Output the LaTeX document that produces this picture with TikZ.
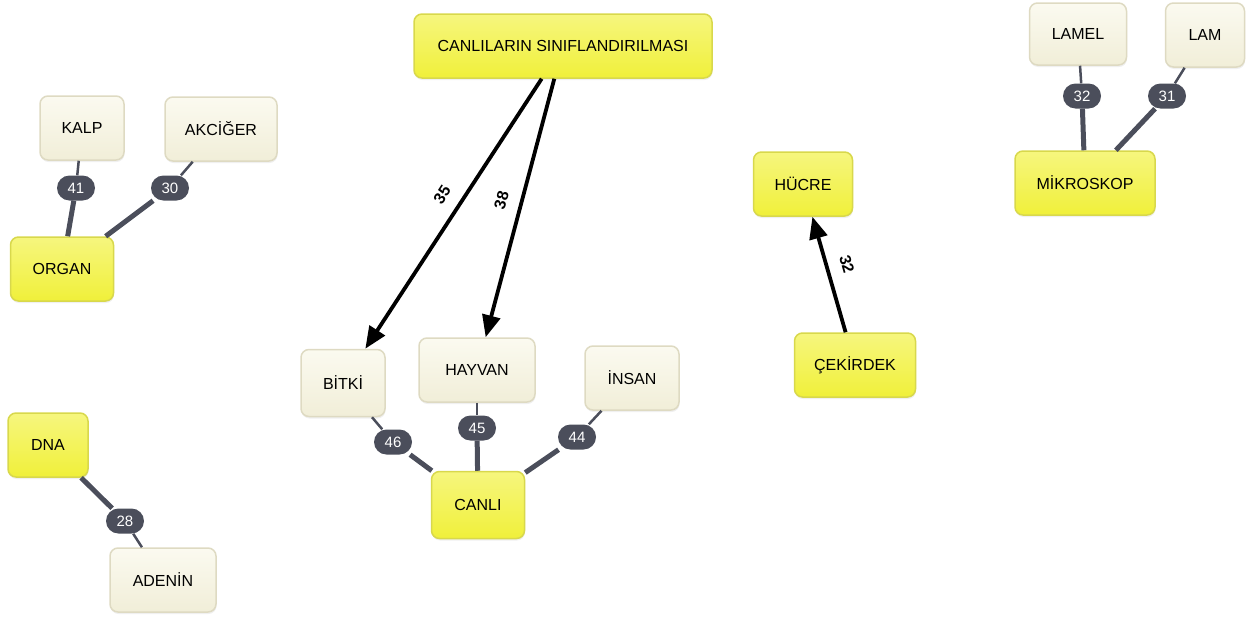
\documentclass[tikz,border=0pt]{standalone}
\usepackage{fontspec}
\setmainfont{Liberation Sans}
\usetikzlibrary{arrows.meta,shadows}
\definecolor{yeltop}{HTML}{F6F67E}
\definecolor{yelbot}{HTML}{F0F03A}
\definecolor{yelbd}{HTML}{D8D84C}
\definecolor{cretop}{HTML}{FBFAF0}
\definecolor{crebot}{HTML}{F1EED8}
\definecolor{crebd}{HTML}{DEDAC2}
\definecolor{pill}{HTML}{4B4E5B}
\begin{document}
\begin{tikzpicture}[x=1pt,y=-1pt,
	box/.style={draw,rounded corners=8pt,line width=1.5pt,inner sep=0pt,minimum height=64pt,font=\fontsize{16}{19}\selectfont,drop shadow={opacity=.12,shadow xshift=.5pt,shadow yshift=-2pt}},
	yel/.style={box,draw=yelbd,top color=yeltop,bottom color=yelbot},
	cre/.style={box,draw=crebd,top color=cretop,bottom color=crebot},
	num/.style={fill=pill,text=white,rounded corners=12.5pt,minimum width=38pt,minimum height=25pt,inner sep=0pt,font=\fontsize{15}{17}\selectfont},
	fine/.style={draw=pill,line width=2.5pt},
	grossa/.style={draw=pill,line width=5pt},
	freccia/.style={-{Triangle[length=22pt,width=18pt]},line width=3.8pt},
	peso/.style={sloped,above=9pt,font=\bfseries\fontsize{16}{18}\selectfont}]
		\useasboundingbox (0,0) rectangle (1250,619);
		\node[yel,minimum width=298pt,name=sin]at(563,46){CANLILARIN SINIFLANDIRILMASI};
		\node[cre,minimum width=84pt,name=kalp]at(82,128){KALP};
		\node[cre,minimum width=112pt,name=akc]at(221,129){AKCİĞER};
		\node[yel,minimum width=103pt,name=org]at(62,269){ORGAN};
		\node[num,name=n41]at(76,188){41};
		\node[num,name=n30]at(170,188){30};
		\draw[fine](kalp)--(n41);
		\draw[grossa](n41)--(org);
		\draw[fine](akc)--(n30);
		\draw[grossa](n30)--(org);
		\node[cre,minimum width=84pt,minimum height=67pt,name=bit]at(343,383){BİTKİ};
		\node[cre,minimum width=116pt,name=hay]at(477,370){HAYVAN};
		\node[cre,minimum width=94pt,name=ins]at(632,378){İNSAN};
		\node[yel,minimum width=93pt,minimum height=67pt,name=can]at(478,505){CANLI};
		\node[num,name=n46]at(393,442){46};
		\node[num,name=n45]at(477,428){45};
		\node[num,name=n44]at(577,437){44};
		\draw[fine](bit)--(n46);
		\draw[grossa](n46)--(can);
		\draw[fine](hay)--(n45);
		\draw[grossa](n45)--(can);
		\draw[fine](ins)--(n44);
		\draw[grossa](n44)--(can);
		\draw[freccia](sin)--node[peso,pos=.47]{35}(bit);
		\draw[freccia](sin)--node[peso,pos=.49]{38}(hay);
		\node[yel,minimum width=99pt,name=huc]at(803,184){HÜCRE};
		\node[yel,minimum width=121pt,name=cek]at(855,365){ÇEKİRDEK};
		\draw[freccia](cek)--node[peso,pos=.54]{32}(huc);
		\node[cre,minimum width=97pt,minimum height=62pt,name=lamel]at(1078,34){LAMEL};
		\node[cre,minimum width=79pt,name=lam]at(1205,35){LAM};
		\node[yel,minimum width=140pt,name=mik]at(1085,183){MİKROSKOP};
		\node[num,name=n32]at(1082,96){32};
		\node[num,name=n31]at(1167,96){31};
		\draw[fine](lamel)--(n32);
		\draw[grossa](n32)--(mik);
		\draw[fine](lam)--(n31);
		\draw[grossa](n31)--(mik);
		\node[yel,minimum width=80pt,name=dna]at(48,445){DNA};
		\node[cre,minimum width=106pt,name=ade]at(163,580){ADENİN};
		\node[num,name=n28]at(125,521){28};
		\draw[grossa](dna)--(n28);
		\draw[fine](n28)--(ade);
	\end{tikzpicture}
\end{document}
